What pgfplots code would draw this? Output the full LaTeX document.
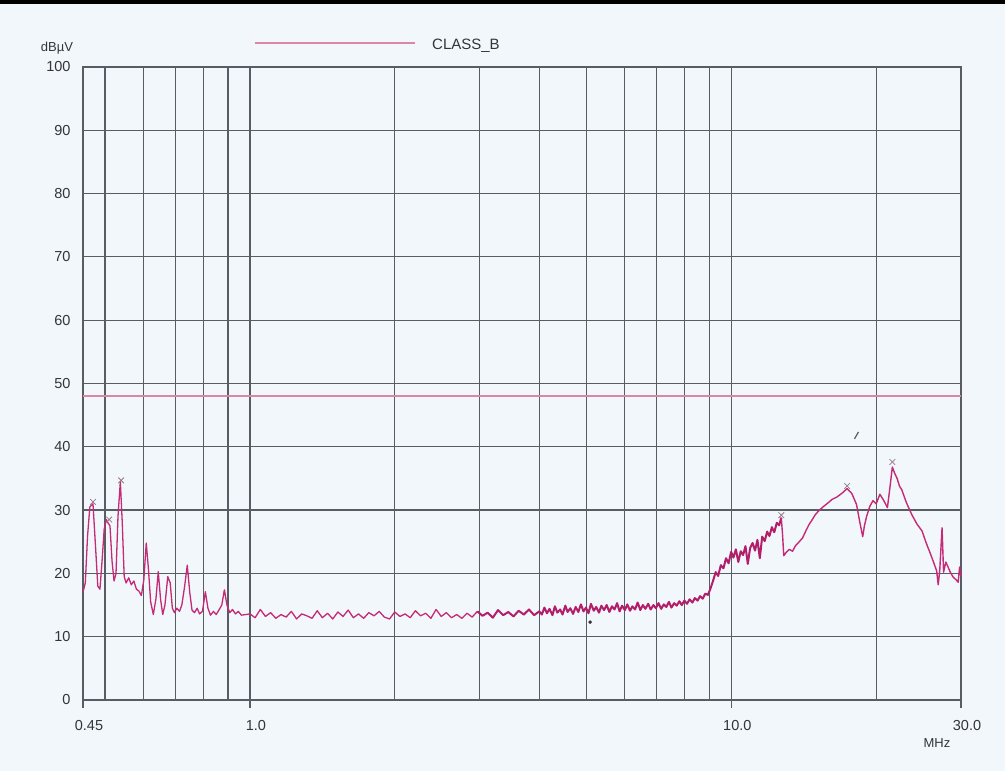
\documentclass[border=0pt]{standalone}
\usepackage{fontspec}
\setmainfont{Liberation Sans}
\usepackage{pgfplots}
\pgfplotsset{compat=1.18}
\definecolor{bg}{RGB}{241,247,250}
\definecolor{gridc}{RGB}{88,93,101}
\definecolor{trace}{RGB}{196,42,118}
\definecolor{tracedk}{RGB}{178,30,105}
\definecolor{limitc}{RGB}{218,135,165}
\definecolor{txt}{RGB}{50,53,58}
\definecolor{markc}{RGB}{150,120,135}
\begin{document}
\begin{tikzpicture}
\useasboundingbox (0,0) rectangle (1005pt,771pt);
\fill[bg] (0,0) rectangle (1005pt,771pt);
\fill[black] (0,767pt) rectangle (1005pt,771pt);
\begin{axis}[
  at={(83pt,71pt)}, anchor=south west,
  scale only axis, width=878pt, height=633pt,
  xmode=log, xmin=0.45, xmax=30, ymin=0, ymax=100,
  axis line style={gridc, line width=1.2pt},
  xtick={0.45,0.5,0.6,0.7,0.8,0.9,1,2,3,4,5,6,7,8,9,10,20,30},
  xticklabels={0.45,{},{},{},{},{},1.0,{},{},{},{},{},{},{},{},10.0,{},30.0},
  ytick={0,10,...,100},
  yticklabels={0,10,20,30,40,50,60,70,80,90,100},
  major tick length=0pt,
  tick pos=left,
  grid=major,
  major grid style={gridc, line width=1.2pt},
  extra x ticks={0.45,1,10,30},
  extra x tick labels={},
  extra x tick style={grid=none, major tick length=8pt, tick align=outside, tick pos=left, tick style={gridc, line width=1.2pt}},
  ticklabel style={font=\fontsize{14.5}{16}\selectfont, text=txt},
  xticklabel style={yshift=-17pt, xshift=6pt},
  yticklabel style={xshift=-9pt},
  clip=false,
]
\addplot[limitc, line width=1.5pt] coordinates {(0.45,48) (30,48)};
\addplot[trace, line width=1.3pt, line join=round] coordinates {
(0.450,17.0) (0.455,18.5) (0.460,26) (0.465,30.5) (0.472,31) (0.478,24) (0.483,18) (0.488,17.5)
(0.493,22) (0.498,27) (0.503,28.5) (0.507,28) (0.512,27.5) (0.517,22) (0.522,18.8) (0.527,20)
(0.532,29) (0.538,34.5) (0.543,28) (0.548,19.5) (0.553,18.5) (0.560,19.3) (0.567,18.2) (0.574,18.8)
(0.581,17.5) (0.588,17.2) (0.595,16.5) (0.602,19) (0.609,24.8) (0.615,21) (0.622,15.5) (0.630,13.5)
(0.638,16) (0.645,20.3) (0.652,16) (0.659,13.5) (0.666,15) (0.675,19.5) (0.683,18.5) (0.690,14.5)
(0.697,13.8) (0.705,14.5) (0.714,14.0) (0.722,15) (0.732,18) (0.741,21.3) (0.750,17) (0.758,14.2)
(0.767,13.8) (0.777,14.5) (0.786,13.6) (0.797,14.0) (0.808,17.1) (0.818,14.5) (0.828,13.4) (0.840,14.0)
(0.851,13.5) (0.862,14.2) (0.874,15.0) (0.885,17.4) (0.896,15) (0.908,13.8) (0.920,14.3) (0.933,13.6)
(0.946,14.0) (0.960,13.4)
(1.000,13.6) (1.025,13.0) (1.051,14.3) (1.077,13.2) (1.104,13.8) (1.132,12.9) (1.160,13.5) (1.189,13.1)
(1.219,14.0) (1.250,12.8) (1.281,13.6) (1.313,13.3) (1.346,12.9) (1.380,14.1) (1.414,13.0) (1.450,13.7)
(1.486,12.8) (1.523,13.9) (1.561,13.2) (1.600,14.2) (1.640,13.0) (1.681,13.6) (1.723,12.9) (1.766,13.8)
(1.811,13.3) (1.856,14.0) (1.902,13.1) (1.950,12.8) (1.999,13.9) (2.049,13.2) (2.100,13.6) (2.153,13.0)
(2.206,14.1) (2.262,13.3) (2.318,13.7) (2.376,12.9) (2.436,14.3) (2.497,13.2) (2.559,13.8) (2.623,13.0)
(2.689,13.5) (2.756,12.9) (2.825,13.7) (2.895,13.1) (2.968,14.0)
};
\addplot[tracedk, line width=2.0pt, line join=round] coordinates {
(2.968,14.0) (3.042,13.3) (3.118,13.8) (3.196,13.0)
(3.276,14.2) (3.358,13.4) (3.442,13.9) (3.528,13.2) (3.616,14.1) (3.707,13.5) (3.799,14.3) (3.894,13.4)
(3.992,14.0)
(4.04,13.5) (4.09,14.6) (4.14,13.7) (4.19,14.4) (4.25,13.4) (4.30,14.8) (4.35,13.8) (4.41,14.3)
(4.46,13.5) (4.52,14.9) (4.57,13.9) (4.63,14.5) (4.69,13.6) (4.75,14.7) (4.81,13.9) (4.87,15.1)
(4.93,14.0) (4.99,14.6) (5.05,13.7) (5.11,15.2) (5.18,14.1) (5.24,14.7) (5.31,13.8) (5.37,14.9)
(5.44,14.2) (5.51,15.0) (5.58,13.9) (5.65,14.8) (5.72,14.3) (5.79,15.3) (5.86,14.0) (5.93,14.9)
(6.01,14.2) (6.08,15.1) (6.16,14.1) (6.23,14.8) (6.31,14.3) (6.39,15.4) (6.47,14.2) (6.55,15.0)
(6.63,14.4) (6.72,15.2) (6.80,14.3) (6.89,15.0) (6.97,14.5) (7.06,15.3) (7.15,14.4) (7.24,15.1)
(7.33,14.7) (7.42,15.5) (7.51,14.6) (7.61,15.3) (7.70,14.9) (7.80,15.6) (7.89,15.0) (7.99,15.7)
(8.09,15.2) (8.19,15.9) (8.30,15.4) (8.40,16.1) (8.51,15.7) (8.61,16.4) (8.72,16.0) (8.83,16.8)
(8.94,16.6) (9.05,17.6) (9.16,18.8) (9.28,20.2) (9.39,19.6) (9.51,21.3) (9.63,20.8) (9.75,22.4)
(9.87,21.6) (9.99,23.4)
(10.10,22.5) (10.22,23.8) (10.34,21.8) (10.46,23.5) (10.58,22.9) (10.70,24.3) (10.82,21.5) (10.94,24.0)
(11.07,24.8) (11.20,23.6) (11.33,25.3) (11.46,22.4) (11.59,25.8) (11.73,25.1) (11.87,26.6) (12.00,25.9)
(12.14,27.3) (12.28,26.5) (12.43,28.0) (12.57,27.6) (12.70,28.8)
};
\addplot[trace, line width=1.4pt, line join=round] coordinates {
(12.70,28.8) (12.78,26.0) (12.85,22.8) (13.0,23.3)
(13.2,23.8) (13.4,23.5) (13.6,24.4) (13.8,24.9) (14.06,25.6) (14.3,26.8) (14.5,27.7) (14.7,28.4)
(14.95,29.3) (15.2,29.9) (15.5,30.5) (15.8,31.0) (16.2,31.7) (16.6,32.1) (17.0,32.7) (17.4,33.4)
(17.8,32.6) (18.2,30.9) (18.5,28.0) (18.75,25.8) (18.9,27.5) (19.1,29.0) (19.4,30.6) (19.7,31.5)
(20.0,31.0) (20.35,32.5) (20.7,31.6) (21.1,30.4) (21.35,33.5) (21.6,36.8) (21.85,35.8) (22.1,35.0)
(22.35,33.8) (22.6,33.2) (23.1,31.2) (23.7,29.3) (24.3,27.8) (24.9,26.7) (25.4,24.8) (25.8,23.5)
(26.3,21.8) (26.7,20.4) (26.9,18.2) (27.1,20.5) (27.4,27.2) (27.6,20.2) (27.9,21.8) (28.2,21.0)
(28.5,20.2) (28.9,19.4) (29.3,19.0) (29.6,18.6) (29.8,21.0) (30.0,19.5)
};
\addplot[only marks, mark=x, mark size=4pt, markc, line width=0.8pt] coordinates {
(0.472,31.3) (0.510,28.5) (0.540,34.7) (12.7,29.2) (17.4,33.8) (21.6,37.6)};
\addplot[only marks, mark=*, mark size=1.6pt, black!80] coordinates {(5.09,12.3)};
\addplot[only marks, mark=|, mark size=4pt, mark options={rotate=-30}, gridc, line width=1.2pt] coordinates {(18.2,41.8)};
\end{axis}
\draw[limitc, line width=1.5pt] (255pt,728pt) -- (415pt,728pt);
\node[anchor=west, inner sep=0pt, font=\fontsize{15}{17}\selectfont, text=txt] at (432pt,725pt) {CLASS\_B};
\node[font=\fontsize{13}{15}\selectfont, text=txt] at (57pt,723pt) {dBµV};
\node[font=\fontsize{13}{15}\selectfont, text=txt] at (937pt,28pt) {MHz};
\end{tikzpicture}
\end{document}
